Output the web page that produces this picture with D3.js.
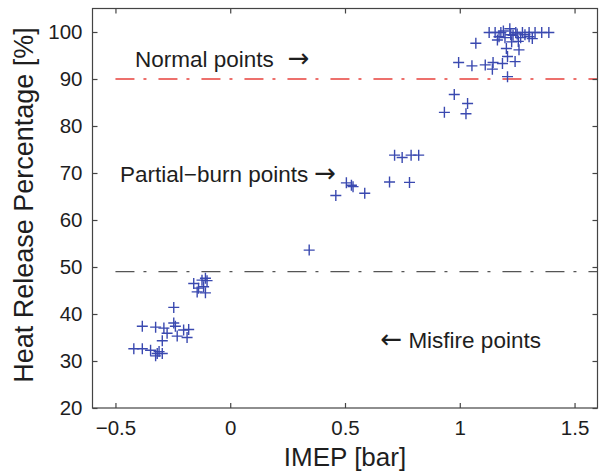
<!DOCTYPE html>
<html><head><meta charset="utf-8">
<script src="https://cdn.jsdelivr.net/npm/d3@7"></script>
<style>html,body{margin:0;padding:0;background:#fff;}svg{display:block;}</style>
</head><body>
<script>
const imep = [
  -0.42,-0.383,-0.347,-0.318,-0.325,-0.296,-0.296,-0.383,-0.325,-0.289,-0.275,-0.246,-0.246,-0.239,-0.231,-0.203,-0.181,-0.188,-0.31,
  -0.159,-0.123,-0.108,-0.138,-0.108,-0.116,-0.144,-0.101,
  0.344,0.46,0.506,0.535,0.528,0.586,0.694,0.781,0.716,0.749,0.788,0.821,
  0.933,1.027,1.034,0.976,0.995,1.053,1.111,1.145,1.142,1.186,1.241,1.208,1.07,1.208,1.203,1.258,1.255,
  1.128,1.154,1.179,1.218,1.244,1.273,1.302,1.328,1.357,1.388,
  1.171,1.197,1.232,1.265,1.302,1.316,1.164,1.226,1.284,1.222,1.19,1.25
];
const hrp = [
  32.6,32.6,32.3,31.6,31.1,31.6,34.3,37.4,37.2,37.0,35.9,41.4,38.1,37.4,35.3,36.6,36.7,35.0,32.0,
  46.5,47.2,47.6,45.5,44.5,45.8,44.7,47.1,
  53.6,65.2,67.9,67.1,67.4,65.7,68.1,68.0,73.8,73.3,73.8,73.8,
  82.9,82.6,84.8,86.7,93.5,92.8,93.0,93.5,92.1,93.3,93.7,90.5,97.6,94.8,96.5,96.2,98.0,
  99.9,99.9,99.9,100.7,99.9,99.9,99.9,99.9,99.9,99.9,
  99.0,98.8,99.3,98.8,99.0,98.6,98.3,97.9,99.4,99.4,100.2,99.6
];
const xTicks = [-0.5, 0, 0.5, 1, 1.5];
const yTicks = [20, 30, 40, 50, 60, 70, 80, 90, 100];
const refLevels = [90, 49];
const refColors = ["#e8413c", "#555555"];
const annotations = [
  {text: "Normal points", arrow: "\u2192", arrowFirst: false, gap: 14, x: -0.415, y: 92.6},
  {text: "Partial\u2212burn points", arrow: "\u2192", arrowFirst: false, gap: 6, x: -0.48, y: 68.0},
  {text: "Misfire points", arrow: "\u2190", arrowFirst: true, gap: 6, x: 0.655, y: 32.8}
];

const W = 599, H = 473;
const svg = d3.select("body").append("svg").attr("width", W).attr("height", H);
const x = d3.scaleLinear().domain([-0.6, 1.6]).range([92.5, 597.5]);
const y = d3.scaleLinear().domain([20, 105]).range([408, 8.5]);
const font = "Liberation Sans, Arial, Helvetica, sans-serif";
const txt = "#1e1e1e", axc = "#444";

// reference lines
svg.selectAll("line.ref").data(refLevels).enter().append("line")
  .attr("x1", x(-0.5)).attr("x2", x(1.6))
  .attr("y1", d => y(d)).attr("y2", d => y(d))
  .attr("stroke", (d, i) => refColors[i]).attr("stroke-width", 1.3)
  .attr("stroke-dasharray", "19,9,3,12");

// box
svg.append("rect").attr("x", x(-0.6)).attr("y", y(105))
  .attr("width", x(1.6) - x(-0.6)).attr("height", y(20) - y(105))
  .attr("fill", "none").attr("stroke", axc).attr("stroke-width", 1.2);

// axes (ticks inside)
const tl = 5;
const xb = svg.append("g").attr("transform", `translate(0,${y(20)})`)
  .call(d3.axisBottom(x).tickValues(xTicks).tickSize(-tl).tickPadding(12)
    .tickFormat(d => d3.format("")(d).replace("-", "\u2212")));
const xt = svg.append("g").attr("transform", `translate(0,${y(105)})`)
  .call(d3.axisTop(x).tickValues(xTicks).tickSize(-tl).tickFormat(""));
const yl = svg.append("g").attr("transform", `translate(${x(-0.6)},0)`)
  .call(d3.axisLeft(y).tickValues(yTicks).tickSize(-tl).tickPadding(10));
const yr = svg.append("g").attr("transform", `translate(${x(1.6)},0)`)
  .call(d3.axisRight(y).tickValues(yTicks).tickSize(-tl).tickFormat(""));
[xb, xt, yl, yr].forEach(g => {
  g.select(".domain").remove();
  g.selectAll(".tick line").attr("stroke", axc).attr("stroke-width", 1.2);
  g.selectAll("text").attr("fill", txt).attr("font-family", font).attr("font-size", 20.5);
});

// points as "+"
const pts = imep.map((v, i) => [v, hrp[i]]);
const s = 5.5;
svg.append("g").selectAll("path").data(pts).enter().append("path")
  .attr("d", d => `M${x(d[0]) - s},${y(d[1])}H${x(d[0]) + s}M${x(d[0])},${y(d[1]) - s}V${y(d[1]) + s}`)
  .attr("stroke", "#3a49b0").attr("stroke-width", 1.4).attr("fill", "none");

// annotations
const ann = svg.selectAll("text.ann").data(annotations).enter().append("text")
  .attr("x", d => x(d.x)).attr("y", d => y(d.y))
  .attr("font-family", font).attr("font-size", 22.5).attr("fill", txt);
ann.each(function(d) {
  const t = d3.select(this);
  const addArrow = (dx) => t.append("tspan").attr("font-family", "DejaVu Sans, sans-serif")
    .attr("font-size", 26).attr("dx", dx).text(d.arrow);
  if (d.arrowFirst) {
    addArrow(0);
    t.append("tspan").attr("dx", d.gap).text(d.text);
  } else {
    t.append("tspan").text(d.text);
    addArrow(d.gap);
  }
});

// axis labels
svg.append("text").attr("x", (x(-0.6) + x(1.6)) / 2).attr("y", 466)
  .attr("text-anchor", "middle").attr("font-family", font).attr("font-size", 26).attr("fill", txt)
  .text("IMEP [bar]");
svg.append("text").attr("transform", `translate(33,205) rotate(-90)`)
  .attr("text-anchor", "middle").attr("font-family", font).attr("font-size", 27).attr("fill", txt)
  .text("Heat Release Percentage [%]");
</script>
</body></html>
